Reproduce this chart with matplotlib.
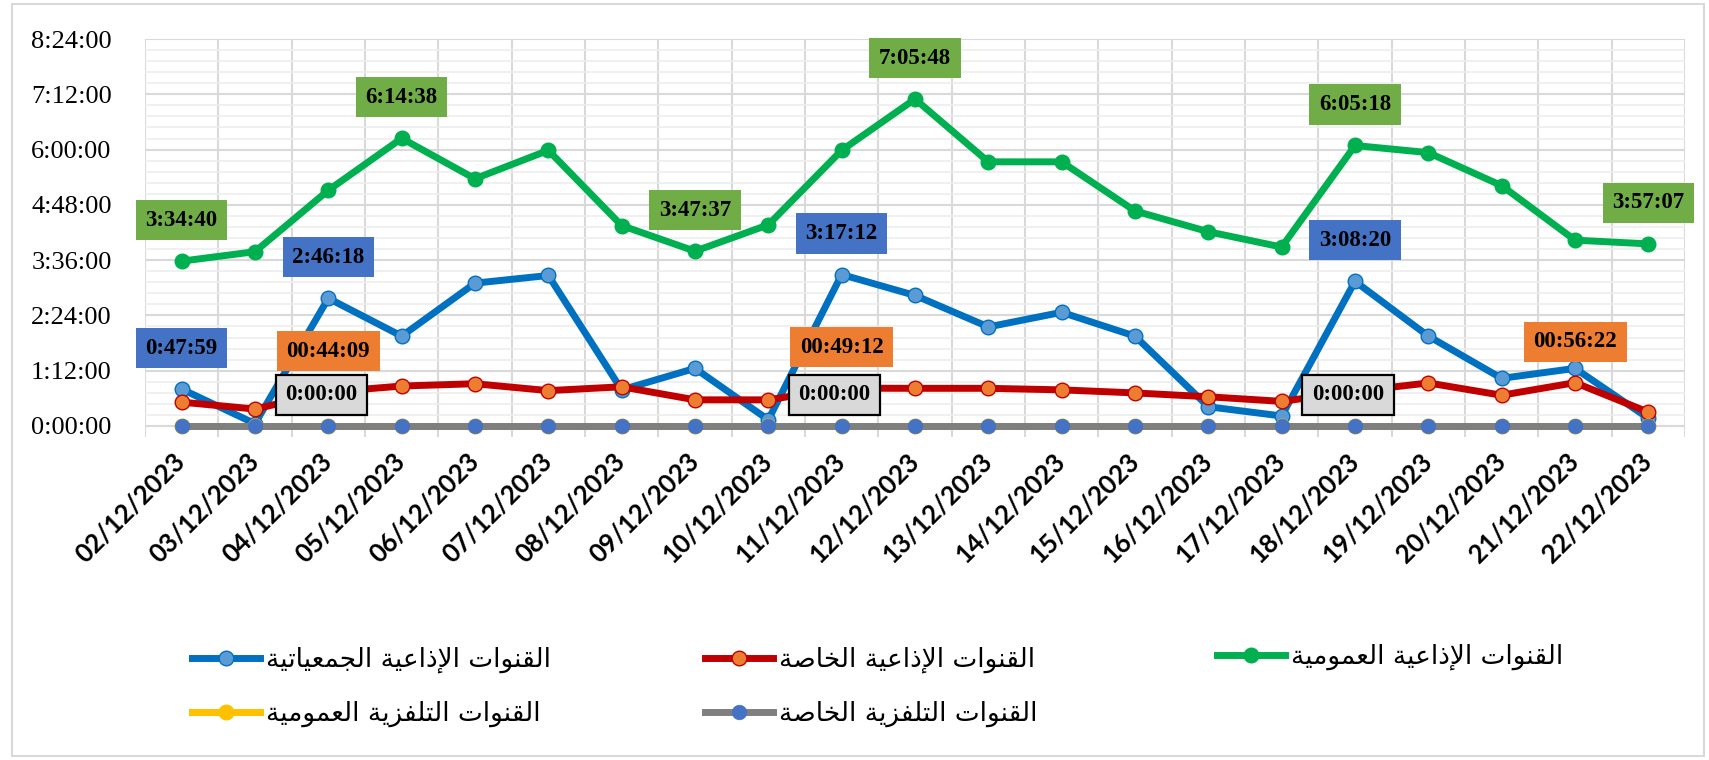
import matplotlib
matplotlib.use("Agg")
import matplotlib.pyplot as plt
from matplotlib.patches import Rectangle
from matplotlib.ticker import FixedLocator
from matplotlib.transforms import ScaledTranslation
import numpy as np

# ---- data -------------------------------------------------------------
dates = ["02/12/2023", "03/12/2023", "04/12/2023", "05/12/2023", "06/12/2023",
         "07/12/2023", "08/12/2023", "09/12/2023", "10/12/2023", "11/12/2023",
         "12/12/2023", "13/12/2023", "14/12/2023", "15/12/2023", "16/12/2023",
         "17/12/2023", "18/12/2023", "19/12/2023", "20/12/2023", "21/12/2023",
         "22/12/2023"]

radio_assoc = ["0:47:59", "0:03:00", "2:46:18", "1:57:00", "3:06:00", "3:16:00",
               "0:47:00", "1:15:00", "0:08:00", "3:17:12", "2:50:00", "2:09:00",
               "2:28:00", "1:57:00", "0:25:00", "0:13:00", "3:08:20", "1:57:00",
               "1:02:00", "1:15:00", "0:10:00"]
radio_private = ["0:31:00", "0:22:00", "0:44:09", "0:52:00", "0:55:00", "0:46:00",
                 "0:51:00", "0:34:00", "0:34:00", "0:49:12", "0:49:00", "0:49:00",
                 "0:47:00", "0:43:00", "0:38:00", "0:32:00", "0:45:00", "0:56:00",
                 "0:40:00", "0:56:22", "0:18:00"]
radio_public = ["3:34:40", "3:47:00", "5:07:00", "6:14:38", "5:22:00", "5:59:00",
                "4:21:00", "3:47:37", "4:22:00", "5:59:00", "7:05:48", "5:44:00",
                "5:44:00", "4:40:00", "4:13:00", "3:53:00", "6:05:18", "5:56:00",
                "5:13:00", "4:02:00", "3:57:07"]
tv_public = ["0:00:00"] * 21
tv_private = ["0:00:00"] * 21

names = ["القنوات الإذاعية الجمعياتية", "القنوات الإذاعية الخاصة",
         "القنوات الإذاعية العمومية", "القنوات التلفزية العمومية",
         "القنوات التلفزية الخاصة"]

# which points carry a value label
lab_assoc = [0, 2, 9, 16]
lab_private = [2, 9, 19]
lab_public = [0, 3, 7, 10, 16, 20]
lab_tv = [2, 9, 16]


def to_hours(s):
    h, m, sec = s.split(":")
    return int(h) + int(m) / 60 + int(sec) / 3600


def fmt(h, pad=False):
    t = int(round(h * 3600))
    hh, mm, ss = t // 3600, (t % 3600) // 60, t % 60
    return ("%02d:%02d:%02d" if pad else "%d:%02d:%02d") % (hh, mm, ss)


# ---- minimal arabic shaping (matplotlib has no complex text layout) ----
FORMS = {
    'ا': ('\uFE8D', '\uFE8E', None, None), 'إ': ('\uFE87', '\uFE88', None, None),
    'ذ': ('\uFEAB', '\uFEAC', None, None), 'ز': ('\uFEAF', '\uFEB0', None, None),
    'و': ('\uFEED', '\uFEEE', None, None), 'ة': ('\uFE93', '\uFE94', None, None),
    'ل': ('\uFEDD', '\uFEDE', '\uFEDF', '\uFEE0'), 'ق': ('\uFED5', '\uFED6', '\uFED7', '\uFED8'),
    'ن': ('\uFEE5', '\uFEE6', '\uFEE7', '\uFEE8'), 'ت': ('\uFE95', '\uFE96', '\uFE97', '\uFE98'),
    'ع': ('\uFEC9', '\uFECA', '\uFECB', '\uFECC'), 'ي': ('\uFEF1', '\uFEF2', '\uFEF3', '\uFEF4'),
    'ج': ('\uFE9D', '\uFE9E', '\uFE9F', '\uFEA0'), 'م': ('\uFEE1', '\uFEE2', '\uFEE3', '\uFEE4'),
    'خ': ('\uFEA5', '\uFEA6', '\uFEA7', '\uFEA8'), 'ص': ('\uFEB9', '\uFEBA', '\uFEBB', '\uFEBC'),
    'ف': ('\uFED1', '\uFED2', '\uFED3', '\uFED4'),
}
LAM_ALEF = {'ا': ('\uFEFB', '\uFEFC'), 'إ': ('\uFEF9', '\uFEFA')}


def shape_word(w):
    units = []
    i = 0
    while i < len(w):
        if w[i] == 'ل' and i + 1 < len(w) and w[i + 1] in LAM_ALEF:
            units.append(('LA', w[i + 1]))
            i += 2
        else:
            units.append(('C', w[i]))
            i += 1

    def dual(u):
        return u[0] == 'C' and FORMS.get(u[1], (0, 0, None))[2] is not None

    out = []
    for k, u in enumerate(units):
        jp = k > 0 and dual(units[k - 1])
        if u[0] == 'LA':
            out.append(LAM_ALEF[u[1]][1 if jp else 0])
            continue
        f = FORMS.get(u[1])
        if f is None:
            out.append(u[1])
            continue
        jn = dual(u) and k < len(units) - 1
        if jp and jn:
            out.append(f[3])
        elif jp:
            out.append(f[1])
        elif jn:
            out.append(f[2])
        else:
            out.append(f[0])
    return "".join(out)


def ar(s):
    return " ".join(shape_word(w) for w in s.split(" "))[::-1]


# ---- figure -----------------------------------------------------------
fig = plt.figure(figsize=(17.09, 7.6), dpi=100)
ax = fig.add_axes([145 / 1709, 1 - 437 / 760, 1540 / 1709, 398 / 760])

x = np.arange(len(dates))
ya = [to_hours(v) for v in radio_assoc]
yp = [to_hours(v) for v in radio_private]
yg = [to_hours(v) for v in radio_public]
yt1 = [to_hours(v) for v in tv_public]
yt2 = [to_hours(v) for v in tv_private]

LW, MS = 5, 10.5
l1, = ax.plot(x, ya, color="#0070C0", lw=LW, marker="o", ms=MS,
              mfc="#5B9BD5", mec="#0070C0", mew=1, zorder=3)
l2, = ax.plot(x, yp, color="#C00000", lw=LW, marker="o", ms=MS,
              mfc="#ED7D31", mec="#C00000", mew=1, zorder=4)
l3, = ax.plot(x, yg, color="#00B050", lw=LW, marker="o", ms=MS,
              mfc="#00B050", mec="#00B050", zorder=5)
l4, = ax.plot(x, yt1, color="#FFC000", lw=LW, marker="o", ms=MS,
              mfc="#FFC000", mec="#FFC000", zorder=6)
l5, = ax.plot(x, yt2, color="#7F7F7F", lw=LW, marker="o", ms=MS,
              mfc="#4472C4", mec="#4472C4", mew=0.5, zorder=7, clip_on=False)

ax.set_xlim(-0.5, len(dates) - 0.5)
ax.set_ylim(-0.24, 8.4)
ax.set_yticks(np.arange(0, 8.41, 1.2))
ax.set_yticklabels([fmt(v) for v in np.arange(0, 8.41, 1.2)],
                   family="Liberation Serif", fontsize=19)
ax.yaxis.set_minor_locator(FixedLocator(np.arange(0, 8.41, 0.24)))
ax.set_xticks(x)
ax.set_xticklabels(dates, rotation=45, ha="right", va="center",
                   rotation_mode="anchor", family="Lato", fontweight="bold",
                   fontsize=18.5)
shift = ScaledTranslation(10 / 100, 0, fig.dpi_scale_trans)
for t in ax.get_xticklabels():
    t.set_transform(t.get_transform() + shift)
ax.xaxis.set_minor_locator(FixedLocator(np.arange(-0.5, len(dates), 1)))
ax.tick_params(axis="both", which="both", length=0)
ax.tick_params(axis="y", pad=24)
ax.tick_params(axis="x", pad=15)
ax.grid(axis="y", which="minor", color="#EDEDED", lw=1.2)
ax.grid(axis="y", which="major", color="#D9D9D9", lw=1.5)
ax.grid(axis="x", which="minor", color="#D9D9D9", lw=1.5)
ax.grid(axis="x", which="major", visible=False)
ax.set_axisbelow(True)
for s in ax.spines.values():
    s.set_visible(False)


# value labels
def label(idx, ys, fc, pad=False, ec="none", dx=0, dy=41):
    for i in idx:
        ax.annotate(fmt(ys[i], pad), (x[i], ys[i]), xytext=(dx, dy),
                    textcoords="offset pixels", ha="center", va="center",
                    family="Liberation Serif", fontweight="bold", fontsize=16.5,
                    color="black", zorder=10, annotation_clip=False,
                    bbox=dict(boxstyle="square,pad=0.42", fc=fc, ec=ec, lw=1.6))


label(lab_public, yg, "#70AD47")
label(lab_assoc, ya, "#4472C4")
label(lab_private, yp, "#ED7D31", pad=True)
label(lab_tv, yt2, "#D9D9D9", ec="black", dx=-7, dy=31)

# legends, three columns
leg_kw = dict(frameon=False, prop={"family": "DejaVu Sans", "size": 19},
              handlelength=2.6, handletextpad=0.2, labelspacing=1.05,
              loc="center left")
fig.legend([l1, l4], [ar(names[0]), ar(names[3])],
           bbox_to_anchor=(168 / 1709, 1 - 687 / 760), **leg_kw)
fig.legend([l2, l5], [ar(names[1]), ar(names[4])],
           bbox_to_anchor=(681 / 1709, 1 - 687 / 760), **leg_kw)
fig.legend([l3], [ar(names[2])],
           bbox_to_anchor=(1193 / 1709, 1 - 657 / 760), **leg_kw)

fig.patches.append(Rectangle((12 / 1709, 4 / 760), 1692 / 1709, 752 / 760,
                             transform=fig.transFigure, fill=False,
                             ec="#D9D9D9", lw=1.5))

fig.savefig("out.png", dpi=100)
